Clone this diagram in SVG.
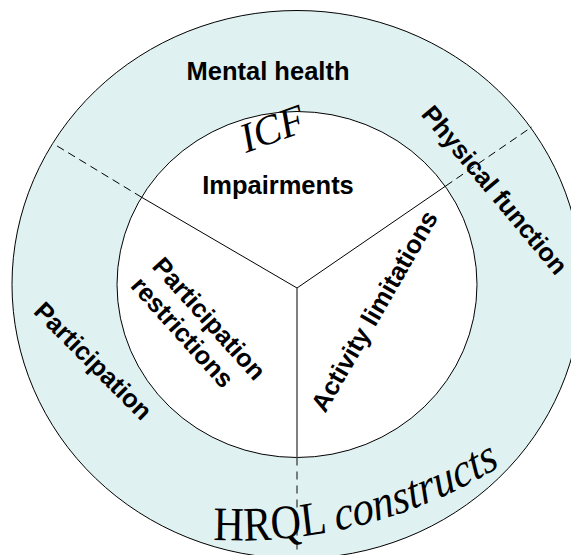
<svg xmlns="http://www.w3.org/2000/svg" width="571" height="555" viewBox="0 0 571 555">
<style>
  .lbl { font-family: "Liberation Sans", Arial, sans-serif; font-weight: bold; font-size: 25.5px; fill: #000; }
  .ser { font-family: "Liberation Serif", "Times New Roman", serif; fill: #000; }
  .ring { fill: #DFF1F1; stroke: #000; stroke-width: 1; }
  .core { fill: #FFFFFF; stroke: #000; stroke-width: 1; }
  .solid { stroke: #000; stroke-width: 1; fill: none; }
  .dash { stroke: #000; stroke-width: 1; stroke-dasharray: 8 5; fill: none; }
  .vsolid { stroke: #555; stroke-width: 1.5; fill: none; }
  .vdash { stroke: #555; stroke-width: 1.5; stroke-dasharray: 8 6; fill: none; }
</style>
<defs>
  <path id="hrqlArc" d="M242.3,539.9 A568.2,500 0 0 0 613.6,439"/>
</defs>
<rect width="571" height="555" fill="#FFFFFF"/>

<g id="outer-ring">
  <ellipse class="ring" cx="297" cy="284.5" rx="285" ry="274"/>
</g>
<g id="inner-circle">
  <ellipse class="core" cx="297" cy="284.5" rx="180" ry="173"/>
</g>

<g id="connectors">
  <line class="solid" x1="297" y1="288" x2="141.7" y2="197.3"/>
  <line class="dash" x1="141.7" y1="197.3" x2="53" y2="143.5"/>
  <line class="solid" x1="297" y1="288" x2="445.7" y2="186"/>
  <line class="dash" x1="445.7" y1="186" x2="532" y2="126.8"/>
  <line class="vsolid" x1="297" y1="288" x2="297" y2="457.5"/>
  <line class="vdash" x1="297" y1="457.5" x2="297" y2="556"/>
</g>

<g id="mental-health">
  <text class="lbl" x="268" y="80" text-anchor="middle">Mental health</text>
</g>
<g id="physical-function">
  <text class="lbl" x="0" y="0" text-anchor="middle" font-size="24.5px" transform="translate(488,195.5) rotate(50)">Physical function</text>
</g>
<g id="participation">
  <text class="lbl" x="0" y="0" text-anchor="middle" transform="translate(87,367) rotate(45)">Participation</text>
</g>
<g id="icf">
  <text class="ser" x="246" y="153" font-size="42" font-style="italic" textLength="66" lengthAdjust="spacingAndGlyphs" transform="rotate(-20 246 153)">ICF</text>
</g>
<g id="impairments">
  <text class="lbl" x="278" y="194" text-anchor="middle">Impairments</text>
</g>
<g id="activity-limitations">
  <text class="lbl" x="0" y="0" text-anchor="middle" transform="translate(382,315.5) rotate(-60)">Activity limitations</text>
</g>
<g id="participation-restrictions">
  <g transform="translate(151,267) rotate(48)">
    <text class="lbl" x="0" y="0">Participation</text>
    <text class="lbl" x="0" y="29">restrictions</text>
  </g>
</g>
<g id="hrql-constructs">
  <g transform="scale(0.88,1)">
    <text class="ser" font-size="48"><textPath href="#hrqlArc">HRQL <tspan font-style="italic">constructs</tspan></textPath></text>
  </g>
</g>
</svg>
